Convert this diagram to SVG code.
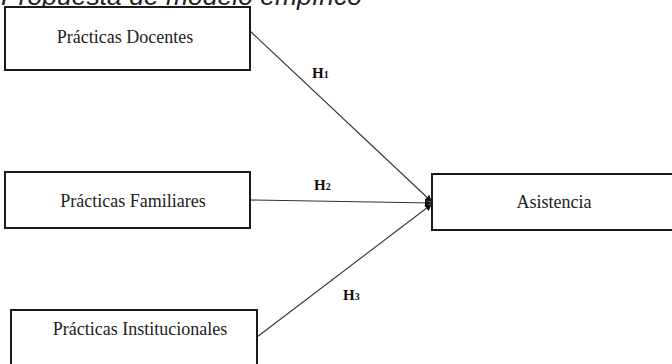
<svg xmlns="http://www.w3.org/2000/svg" width="672" height="364" viewBox="0 0 672 364">
<defs>
<style>
.box{fill:#fff;stroke:#1a1a1a;stroke-width:2}
.lbl{font-family:"Liberation Serif","Times New Roman",serif;font-size:18px;fill:#222;text-anchor:middle}
.h{font-family:"Liberation Serif","Times New Roman",serif;font-weight:bold;font-size:15px;fill:#111}
.sub{font-size:10px}
.con{stroke:#333;stroke-width:1.1;fill:none;marker-end:url(#arr)}
.title{font-family:"Liberation Sans",Arial,sans-serif;font-style:italic;font-size:26.5px;fill:#222}
</style>
<marker id="arr" viewBox="0 0 10 10" refX="10" refY="5" markerWidth="7" markerHeight="7" markerUnits="userSpaceOnUse" orient="auto">
<path d="M0,0 L10,5 L0,10 z" fill="#111"/>
</marker>
</defs>
<rect width="672" height="364" fill="#fff"/>
<text class="title" x="1" y="5">Propuesta de modelo empírico</text>
<g id="connectors">
<line class="con" x1="250" y1="31" x2="432" y2="202"/>
<line class="con" x1="250" y1="200" x2="432" y2="203"/>
<line class="con" x1="257" y1="337" x2="432" y2="204"/>
</g>
<g id="n1">
<rect class="box" x="5" y="7" width="245" height="63"/>
<text class="lbl" x="125" y="43">Prácticas Docentes</text>
</g>
<g id="n2">
<rect class="box" x="5" y="172" width="245" height="56"/>
<text class="lbl" x="133" y="207">Prácticas Familiares</text>
</g>
<g id="n3">
<rect class="box" x="11" y="310" width="246" height="70"/>
<text class="lbl" x="140" y="335">Prácticas Institucionales</text>
</g>
<g id="n4">
<rect class="box" x="432" y="174" width="260" height="56"/>
<text class="lbl" x="554" y="208">Asistencia</text>
</g>
<g id="labels">
<text class="h" x="312" y="78">H<tspan class="sub">1</tspan></text>
<text class="h" x="314" y="190">H<tspan class="sub">2</tspan></text>
<text class="h" x="343" y="300">H<tspan class="sub">3</tspan></text>
</g>
</svg>
